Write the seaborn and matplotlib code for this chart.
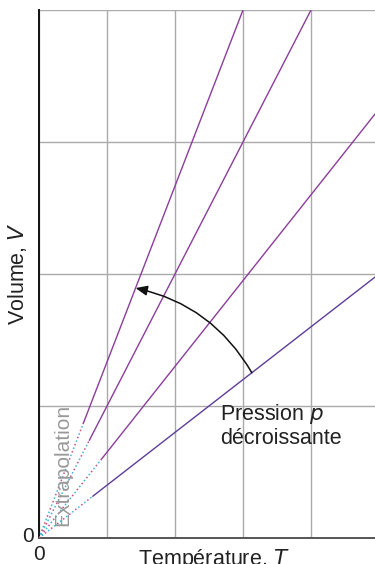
import numpy as np
import pandas as pd
import matplotlib
matplotlib.use("Agg")
import matplotlib.pyplot as plt
import matplotlib.transforms as mtransforms
import seaborn as sns

# Isobars V = k * T for four decreasing pressures
slopes = [4 / 3, 1.0, 0.65, 0.40]          # V/T for each pressure
t_start = [0.65, 0.74, 0.92, 0.79]         # where measured (solid) data begins
t_max = 5.0
line_colors = ["#8b3d9b", "#8b3d9b", "#8b3d9b", "#5e3c98"]
arrow_from_t = 3.13                        # on the lowest-pressure isobar
arrow_to_t = 1.42                          # on the highest-slope isobar

sns.set_style("white")
plt.rcParams["font.family"] = ["Liberation Sans", "DejaVu Sans"]

fig = plt.figure(figsize=(3.75, 5.64), dpi=100)
ax = fig.add_axes([39 / 375, 26 / 564, 340 / 375, 528 / 564])

rows = []
for i, (k, t0) in enumerate(zip(slopes, t_start)):
    for t in (t0, t_max):
        rows.append({"iso": i, "T": t, "V": k * t})
solid = pd.DataFrame(rows)
sns.lineplot(data=solid, x="T", y="V", hue="iso", palette=line_colors,
             linewidth=1.0, legend=False, ax=ax, zorder=3)

# dotted extrapolation back to the origin
for k, t0 in zip(slopes, t_start):
    ext = pd.DataFrame({"T": [0, t0], "V": [0, k * t0]})
    sns.lineplot(data=ext, x="T", y="V", color="#c0508a", linewidth=1.1,
                 linestyle=(0, (1, 4)), ax=ax, zorder=3)
    sns.lineplot(data=ext, x="T", y="V", color="#3fb4d8", linewidth=1.1,
                 linestyle=(2.5, (1, 4)), ax=ax, zorder=3)

ax.set_xlim(0, t_max)
ax.set_ylim(0, 4)
ax.set_xticks(np.arange(0, 6))
ax.set_xticklabels(["0", "", "", "", "", ""])
ax.set_yticks(np.arange(0, 5))
ax.set_yticklabels(["0", "", "", "", ""])
ax.tick_params(axis="x", length=0, labelsize=15, colors="#222222", pad=5)
ax.tick_params(axis="y", length=0, labelsize=15, colors="#222222", pad=4)
# lift the y "0" a little so it sits just above the corner
lift = mtransforms.ScaledTranslation(0, 4 / 100, fig.dpi_scale_trans)
for lbl in ax.get_yticklabels():
    lbl.set_transform(lbl.get_transform() + lift)
ax.grid(True, color="#aaaaaa", linewidth=1.0, zorder=0)
ax.set_axisbelow(True)

for side in ("top", "right"):
    ax.spines[side].set_visible(False)
ax.spines["left"].set_color("#111111")
ax.spines["left"].set_linewidth(1.4)
ax.spines["bottom"].set_color("#555555")
ax.spines["bottom"].set_linewidth(1.4)

ax.set_xlabel("Température, $\\it{T}$", fontsize=15.5, color="#222222")
ax.set_ylabel("Volume, $\\it{V}$", fontsize=15.5, color="#222222")
ax.xaxis.label.set_va("center")
ax.yaxis.label.set_va("center")
ax.xaxis.set_label_coords(0.515, -22 / 528)
ax.yaxis.set_label_coords(-21 / 340, 0.5)

# curved arrow showing decreasing pressure
ax.annotate("", xy=(arrow_to_t, slopes[0] * arrow_to_t),
            xytext=(arrow_from_t, slopes[3] * arrow_from_t),
            arrowprops=dict(arrowstyle="-|>,head_length=0.7,head_width=0.3",
                            color="#111111", lw=1.1,
                            connectionstyle="arc3,rad=0.22",
                            shrinkA=0, shrinkB=0), zorder=4)

ax.text(2.66, 1.03, "Pression $\\it{p}$\ndécroissante", fontsize=15.5,
        color="#222222", ha="left", va="top", linespacing=1.15)
ax.text(0.35, 0.55, "Extrapolation", fontsize=15, color="#999999",
        rotation=90, ha="center", va="center")

fig.savefig("out.png", dpi=100)
